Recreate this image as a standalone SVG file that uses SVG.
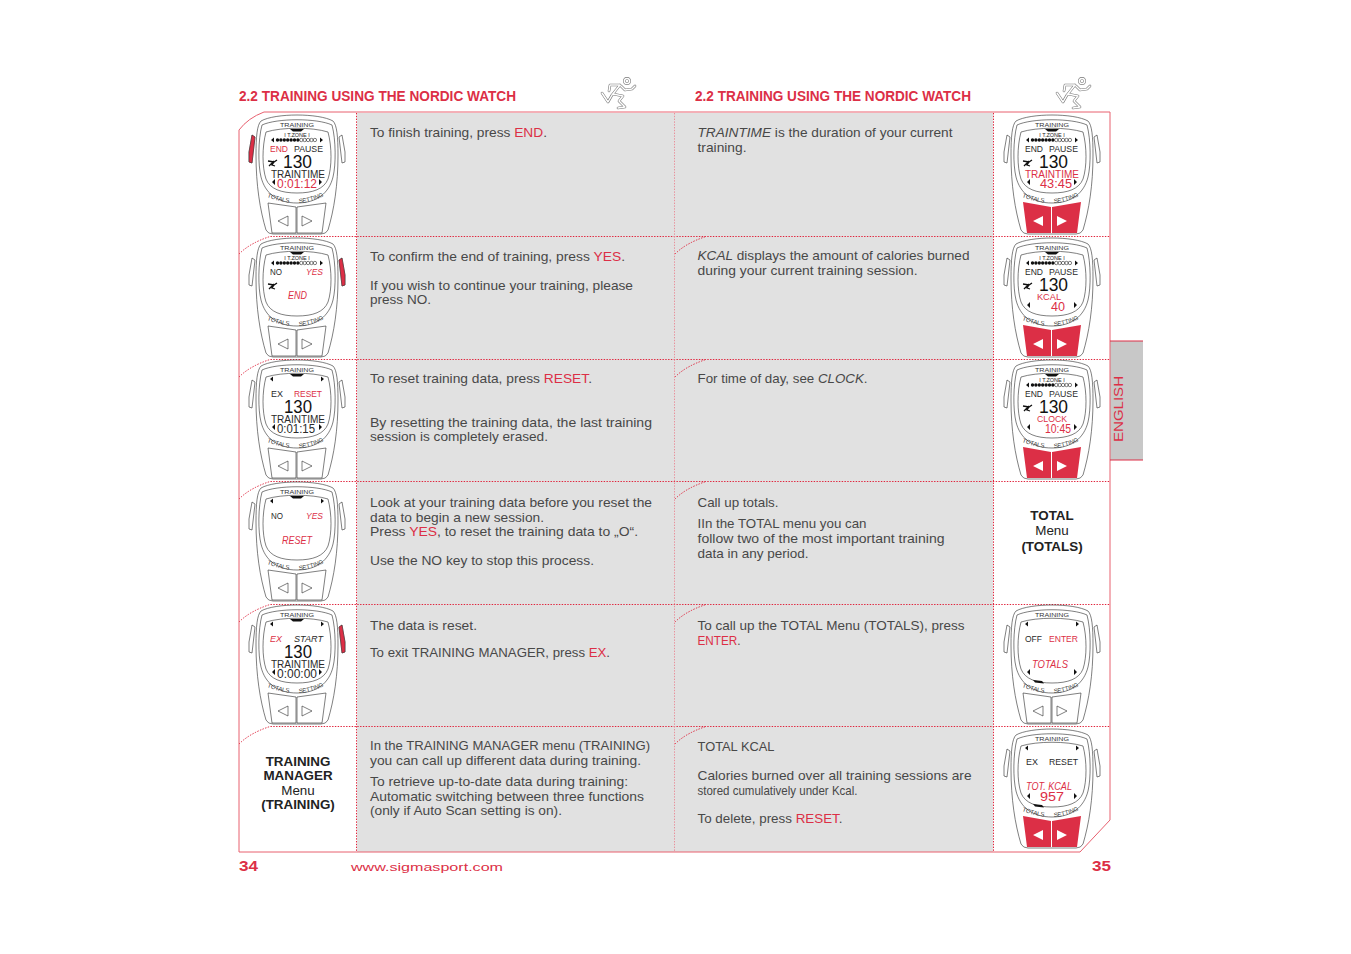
<svg xmlns="http://www.w3.org/2000/svg" width="1351" height="954" viewBox="0 0 1351 954">
<style>
text{font-family:"Liberation Sans",Arial,sans-serif}
.b{font-size:13px;fill:#484848}
.r{fill:#dc2f46}
.i{font-style:italic}
.h{font-size:14px;font-weight:bold;fill:#dc2f46}
.lab{font-size:13.400px;fill:#222;text-anchor:middle}
.bd{font-weight:bold}
.ln{fill:none;stroke:#2a2a2a;stroke-width:.6}
.dot{fill:none;stroke:#e0243c;stroke-width:1;stroke-dasharray:1.4 1.4}
.fr{fill:none;stroke:#e8606f;stroke-width:1}
.lc{fill:#2a2a2a;font-size:8.500px}
.lr{fill:#dc2f46;font-size:8.500px}
.big{font-size:19px;fill:#111}
.m{font-size:11px}
.t{font-size:12px}
.s{font-size:6px;fill:#333}
.ar{fill:#111}
.zn{font-size:5.500px;fill:#222;text-anchor:middle}
</style>
<defs>
<path id="tl" d="M-30 82 Q-17 87 -4 88"/>
<path id="tr" d="M2 88 Q17 87 33 78"/>
<g id="chassis">
<path class="ln" d="M-36 6 C-22 -2 22 -2 36 6 C40 10 41 22 41 40 C41 70 37 95 31 115 Q29 119 24 119 L-24 119 Q-29 119 -31 115 C-37 95 -41 70 -41 40 C-41 22 -40 10 -36 6Z"/>
<path class="ln" d="M-35 10 C-20 3 20 3 35 10 C39 25 39 50 36 62 C32 78 20 88 0 88 C-20 88 -32 78 -36 62 C-39 50 -39 25 -35 10Z"/>
<path class="ln" d="M-31 17 C-15 12 15 12 31 17 C35 32 35 52 31 64 C27 74 16 78 0 78 C-16 78 -27 74 -31 64 C-35 52 -35 32 -31 17Z"/>
<path class="ln" d="M-45 20 L-42 22 L-45 48 L-48 47 L-48 37Z M45 20 L42 22 L45 48 L48 47 L48 37Z"/>
</g>
<g id="btn">
<path class="ln" d="M-29 88 L-1 92 L-1 118 L-25 118Z M29 88 L0 92 L0 118 L25 118Z"/>
<path class="ln" d="M-19 106 L-9 101 L-9 111Z M5 101 L5 111 L15 106Z"/>
</g>
<g id="btnr">
<path fill="#dc2f46" d="M-29 87 L-1 92 L-1 118 L-25 118Z M29 87 L0 92 L0 118 L25 118Z"/>
<path fill="#fff" d="M-19 106 L-9 101 L-9 111Z M5 101 L5 111 L15 106Z"/>
</g>
<path id="notch" class="ar" d="M-7 14 H7 L4 16.500 H-4Z"/>
<g id="bar">
<path class="ar" d="M-26 25 L-23 22.500 V27.500Z M26 25 L23 22.500 V27.500Z"/>
<g fill="#111"><circle cx="-19.500" cy="25" r="1.700"/><circle cx="-16.100" cy="25" r="1.700"/><circle cx="-12.700" cy="25" r="1.700"/><circle cx="-9.300" cy="25" r="1.700"/><circle cx="-5.900" cy="25" r="1.700"/><circle cx="-2.500" cy="25" r="1.700"/><circle cx=".9" cy="25" r="1.700"/></g>
<g class="ln"><circle cx="4.300" cy="25" r="1.700"/><circle cx="7.700" cy="25" r="1.700"/><circle cx="11.100" cy="25" r="1.700"/><circle cx="14.500" cy="25" r="1.700"/><circle cx="17.900" cy="25" r="1.700"/></g>
</g>
<path id="arTop" class="ar" d="M-27 19 L-24 16.500 V21.500Z M27 19 L24 16.500 V21.500Z"/>
<path id="arLow" class="ar" d="M-25 67 L-22 64 V70Z M25 67 L22 64 V70Z"/>
<path id="rn" fill="none" stroke="#111" stroke-width="1.300" d="M-28 51 L-23 46 M-29 46 L-23 47 L-20 45 M-23 47 L-25 50 L-22 51"/>
<g id="man" fill="none" stroke-linejoin="round" stroke-linecap="round">
<g stroke="#777" stroke-width="2.600"><circle cx="26" cy="3" r="2.600"/><path d="M19 7 L11 17 M19 7 L9 7 L8 13 M20 8 L24 12 L31 11 L34 8 M11 17 L7 24 L1 15 M12 16 L22 18 L18 23 L24 29 L17 30"/></g>
<g stroke="#fff" stroke-width="1.500"><circle cx="26" cy="3" r="2.600"/><path d="M19 7 L11 17 M19 7 L9 7 L8 13 M20 8 L24 12 L31 11 L34 8 M11 17 L7 24 L1 15 M12 16 L22 18 L18 23 L24 29 L17 30"/></g>
</g>
</defs>
<rect width="1351" height="954" fill="#fff"/>
<rect x="357" y="113" width="636" height="739" fill="#e1e1e1"/>
<path d="M1110 341 H1143 V460 H1110Z" fill="#c8c8c8"/>
<g id="connectors">
<path class="fr" d="M239 130 Q248 118 264 112 H1110 V820 L1080 852 H239Z"/>
<path d="M1110 341 H1143 M1110 460 H1143" stroke="#dc2f46" stroke-width="1" fill="none"/>
<path class="dot" d="M239 254 Q250 243 270 236.500 H1110 M239 377 Q250 366 270 359.500 H1110 M239 499 Q250 488 270 481.500 H1110 M239 622 Q250 611 270 604.500 H1110 M239 744 Q250 733 270 726.500 H1110"/>
<path class="dot" d="M675 254 Q686 243 706 236.500 M675 377 Q686 366 706 359.500 M675 499 Q686 488 706 481.500 M675 622 Q686 611 706 604.500 M675 744 Q686 733 706 726.500"/>
<path class="dot" d="M356.500 113 V852 M993.500 113 V852"/>
<path d="M674.500 113 V852" fill="none" stroke="#e8909b" stroke-width="1" stroke-dasharray="1.400 1.400"/>
</g>
<g id="header">
<text class="h" x="239" y="101" textLength="277" lengthAdjust="spacingAndGlyphs">2.2 TRAINING USING THE NORDIC WATCH</text>
<text class="h" x="695" y="101" textLength="276" lengthAdjust="spacingAndGlyphs">2.2 TRAINING USING THE NORDIC WATCH</text>
<use href="#man" x="601" y="78"/>
<use href="#man" x="1056" y="78"/>
</g>
<g id="left-text">
<text class="b" x="370" y="137" textLength="177" lengthAdjust="spacingAndGlyphs">To finish training, press <tspan class="r">END</tspan>.</text>
<text class="b" x="370" y="261" textLength="255" lengthAdjust="spacingAndGlyphs">To confirm the end of training, press <tspan class="r">YES</tspan>.</text>
<text class="b" x="370" y="290" textLength="263" lengthAdjust="spacingAndGlyphs">If you wish to continue your training, please</text>
<text class="b" x="370" y="304" textLength="61" lengthAdjust="spacingAndGlyphs">press NO.</text>
<text class="b" x="370" y="383" textLength="222" lengthAdjust="spacingAndGlyphs">To reset training data, press <tspan class="r">RESET</tspan>.</text>
<text class="b" x="370" y="427" textLength="282" lengthAdjust="spacingAndGlyphs">By resetting the training data, the last training</text>
<text class="b" x="370" y="441" textLength="178" lengthAdjust="spacingAndGlyphs">session is completely erased.</text>
<text class="b" x="370" y="507" textLength="282" lengthAdjust="spacingAndGlyphs">Look at your training data before you reset the</text>
<text class="b" x="370" y="522" textLength="174" lengthAdjust="spacingAndGlyphs">data to begin a new session.</text>
<text class="b" x="370" y="536" textLength="268" lengthAdjust="spacingAndGlyphs">Press <tspan class="r">YES</tspan>, to reset the training data to „O“.</text>
<text class="b" x="370" y="565" textLength="224" lengthAdjust="spacingAndGlyphs">Use the NO key to stop this process.</text>
<text class="b" x="370" y="630" textLength="107" lengthAdjust="spacingAndGlyphs">The data is reset.</text>
<text class="b" x="370" y="657" textLength="240" lengthAdjust="spacingAndGlyphs">To exit TRAINING MANAGER, press <tspan class="r">EX</tspan>.</text>
<text class="b" x="370" y="750" textLength="280" lengthAdjust="spacingAndGlyphs">In the TRAINING MANAGER menu (TRAINING)</text>
<text class="b" x="370" y="765" textLength="271" lengthAdjust="spacingAndGlyphs">you can call up different data during training.</text>
<text class="b" x="370" y="786" textLength="258" lengthAdjust="spacingAndGlyphs">To retrieve up-to-date data during training:</text>
<text class="b" x="370" y="801" textLength="274" lengthAdjust="spacingAndGlyphs">Automatic switching between three functions</text>
<text class="b" x="370" y="815" textLength="192" lengthAdjust="spacingAndGlyphs">(only if Auto Scan setting is on).</text>
</g>
<g id="right-text">
<text class="b" x="697.500" y="137" textLength="255" lengthAdjust="spacingAndGlyphs"><tspan class="i">TRAINTIME</tspan> is the duration of your current</text>
<text class="b" x="697.500" y="152" textLength="49" lengthAdjust="spacingAndGlyphs">training.</text>
<text class="b" x="697.500" y="260" textLength="272" lengthAdjust="spacingAndGlyphs"><tspan class="i">KCAL</tspan> displays the amount of calories burned</text>
<text class="b" x="697.500" y="275" textLength="220" lengthAdjust="spacingAndGlyphs">during your current training session.</text>
<text class="b" x="697.500" y="383" textLength="170" lengthAdjust="spacingAndGlyphs">For time of day, see <tspan class="i">CLOCK</tspan>.</text>
<text class="b" x="697.500" y="507" textLength="81" lengthAdjust="spacingAndGlyphs">Call up totals.</text>
<text class="b" x="697.500" y="528" textLength="169" lengthAdjust="spacingAndGlyphs">IIn the TOTAL menu you can</text>
<text class="b" x="697.500" y="543" textLength="247" lengthAdjust="spacingAndGlyphs">follow two of the most important training</text>
<text class="b" x="697.500" y="558" textLength="111" lengthAdjust="spacingAndGlyphs">data in any period.</text>
<text class="b" x="697.500" y="630" textLength="267" lengthAdjust="spacingAndGlyphs">To call up the TOTAL Menu (TOTALS), press</text>
<text class="b" x="697.500" y="645" textLength="43" lengthAdjust="spacingAndGlyphs"><tspan class="r">ENTER</tspan>.</text>
<text class="b" x="697.500" y="751" textLength="77" lengthAdjust="spacingAndGlyphs">TOTAL KCAL</text>
<text class="b" x="697.500" y="780" textLength="274" lengthAdjust="spacingAndGlyphs">Calories burned over all training sessions are</text>
<text class="b" x="697.500" y="795" textLength="160" lengthAdjust="spacingAndGlyphs">stored cumulatively under Kcal.</text>
<text class="b" x="697.500" y="823" textLength="145" lengthAdjust="spacingAndGlyphs">To delete, press <tspan class="r">RESET</tspan>.</text>
</g>
<g id="label-training">
<text class="lab bd" x="298" y="766">TRAINING</text>
<text class="lab bd" x="298" y="780">MANAGER</text>
<text class="lab" x="298" y="795">Menu</text>
<text class="lab bd" x="298" y="809">(TRAINING)</text>
</g>
<g id="label-total">
<text class="lab bd" x="1052" y="520">TOTAL</text>
<text class="lab" x="1052" y="535">Menu</text>
<text class="lab bd" x="1052" y="551">(TOTALS)</text>
</g>

<g id="w1" transform="translate(297 115)"><use href="#chassis"/><use href="#btn"/><path fill="#dc2f46" stroke="#222" stroke-width=".4" d="M-45 20 L-42 22 L-45 48 L-48 47 L-48 37Z"/><use href="#notch"/><use href="#bar"/><use href="#rn"/><use href="#arLow"/>
<text class="s" x="-17" y="12" textLength="34" lengthAdjust="spacingAndGlyphs">TRAINING</text><text class="zn" x="0" y="21.500">I T.ZONE I</text>
<text class="lr" x="-27" y="37" textLength="18" lengthAdjust="spacingAndGlyphs">END</text><text class="lc" x="-3" y="37" textLength="29" lengthAdjust="spacingAndGlyphs">PAUSE</text>
<text class="big" x="-14" y="52.500" textLength="29" lengthAdjust="spacingAndGlyphs">130</text><text class="lc m" x="-26" y="62.500" textLength="54" lengthAdjust="spacingAndGlyphs">TRAINTIME</text><text class="lr t" x="-20" y="73" textLength="40" lengthAdjust="spacingAndGlyphs">0:01:12</text>
<text class="s"><textPath href="#tl">TOTALS</textPath></text><text class="s"><textPath href="#tr">SETTING</textPath></text></g>

<g id="w2" transform="translate(297 238)"><use href="#chassis"/><use href="#btn"/><path fill="#dc2f46" stroke="#222" stroke-width=".4" d="M45 20 L42 22 L45 48 L48 47 L48 37Z"/><use href="#notch"/><use href="#bar"/><use href="#rn"/>
<text class="s" x="-17" y="12" textLength="34" lengthAdjust="spacingAndGlyphs">TRAINING</text><text class="zn" x="0" y="21.500">I T.ZONE I</text>
<text class="lc" x="-27" y="37" textLength="12" lengthAdjust="spacingAndGlyphs">NO</text><text class="lr i" x="9" y="37" textLength="17" lengthAdjust="spacingAndGlyphs">YES</text>
<text class="lr i m" x="-9" y="61" textLength="19" lengthAdjust="spacingAndGlyphs">END</text>
<text class="s"><textPath href="#tl">TOTALS</textPath></text><text class="s"><textPath href="#tr">SETTING</textPath></text></g>

<g id="w3" transform="translate(297 360)"><use href="#chassis"/><use href="#btn"/><use href="#notch"/><use href="#arTop"/><use href="#arLow"/>
<text class="s" x="-17" y="12" textLength="34" lengthAdjust="spacingAndGlyphs">TRAINING</text>
<text class="lc" x="-26" y="37" textLength="12" lengthAdjust="spacingAndGlyphs">EX</text><text class="lr" x="-3" y="37" textLength="28" lengthAdjust="spacingAndGlyphs">RESET</text>
<text class="big" x="-13" y="52.500" textLength="28" lengthAdjust="spacingAndGlyphs">130</text><text class="lc m" x="-26" y="62.500" textLength="54" lengthAdjust="spacingAndGlyphs">TRAINTIME</text><text class="lc t" x="-20" y="73" textLength="38" lengthAdjust="spacingAndGlyphs">0:01:15</text>
<text class="s"><textPath href="#tl">TOTALS</textPath></text><text class="s"><textPath href="#tr">SETTING</textPath></text></g>

<g id="w4" transform="translate(297 482)"><use href="#chassis"/><use href="#btn"/><use href="#notch"/><use href="#arTop"/>
<text class="s" x="-17" y="12" textLength="34" lengthAdjust="spacingAndGlyphs">TRAINING</text>
<text class="lc" x="-26" y="37" textLength="12" lengthAdjust="spacingAndGlyphs">NO</text><text class="lr i" x="9" y="37" textLength="17" lengthAdjust="spacingAndGlyphs">YES</text>
<text class="lr i m" x="-15" y="62" textLength="30" lengthAdjust="spacingAndGlyphs">RESET</text>
<text class="s"><textPath href="#tl">TOTALS</textPath></text><text class="s"><textPath href="#tr">SETTING</textPath></text></g>

<g id="w5" transform="translate(297 605)"><use href="#chassis"/><use href="#btn"/><path fill="#dc2f46" stroke="#222" stroke-width=".4" d="M45 20 L42 22 L45 48 L48 47 L48 37Z"/><use href="#notch"/><use href="#arTop"/><use href="#arLow"/>
<text class="s" x="-17" y="12" textLength="34" lengthAdjust="spacingAndGlyphs">TRAINING</text>
<text class="lr i" x="-27" y="37" textLength="12" lengthAdjust="spacingAndGlyphs">EX</text><text class="lc i" x="-3" y="37" textLength="29" lengthAdjust="spacingAndGlyphs">START</text>
<text class="big" x="-13" y="52.500" textLength="28" lengthAdjust="spacingAndGlyphs">130</text><text class="lc m" x="-26" y="62.500" textLength="54" lengthAdjust="spacingAndGlyphs">TRAINTIME</text><text class="lc t" x="-20" y="73" textLength="40" lengthAdjust="spacingAndGlyphs">0:00:00</text>
<text class="s"><textPath href="#tl">TOTALS</textPath></text><text class="s"><textPath href="#tr">SETTING</textPath></text></g>

<g id="w6" transform="translate(1052 115)"><use href="#chassis"/><use href="#btnr"/><use href="#notch"/><use href="#bar"/><use href="#rn"/><use href="#arLow"/>
<text class="s" x="-17" y="12" textLength="34" lengthAdjust="spacingAndGlyphs">TRAINING</text><text class="zn" x="0" y="21.500">I T.ZONE I</text>
<text class="lc" x="-27" y="37" textLength="18" lengthAdjust="spacingAndGlyphs">END</text><text class="lc" x="-3" y="37" textLength="29" lengthAdjust="spacingAndGlyphs">PAUSE</text>
<text class="big" x="-13" y="52.500" textLength="29" lengthAdjust="spacingAndGlyphs">130</text><text class="lr m" x="-27" y="62.500" textLength="54" lengthAdjust="spacingAndGlyphs">TRAINTIME</text><text class="lr t" x="-12" y="73" textLength="32" lengthAdjust="spacingAndGlyphs">43:45</text>
<text class="s"><textPath href="#tl">TOTALS</textPath></text><text class="s"><textPath href="#tr">SETTING</textPath></text></g>

<g id="w7" transform="translate(1052 238)"><use href="#chassis"/><use href="#btnr"/><use href="#notch"/><use href="#bar"/><use href="#rn"/><use href="#arLow"/>
<text class="s" x="-17" y="12" textLength="34" lengthAdjust="spacingAndGlyphs">TRAINING</text><text class="zn" x="0" y="21.500">I T.ZONE I</text>
<text class="lc" x="-27" y="37" textLength="18" lengthAdjust="spacingAndGlyphs">END</text><text class="lc" x="-3" y="37" textLength="29" lengthAdjust="spacingAndGlyphs">PAUSE</text>
<text class="big" x="-13" y="52.500" textLength="29" lengthAdjust="spacingAndGlyphs">130</text><text class="lr" x="-15" y="61.500" textLength="24" lengthAdjust="spacingAndGlyphs">KCAL</text><text class="lr t" x="-1" y="73" textLength="14" lengthAdjust="spacingAndGlyphs">40</text>
<text class="s"><textPath href="#tl">TOTALS</textPath></text><text class="s"><textPath href="#tr">SETTING</textPath></text></g>

<g id="w8" transform="translate(1052 360)"><use href="#chassis"/><use href="#btnr"/><use href="#notch"/><use href="#bar"/><use href="#rn"/><use href="#arLow"/>
<text class="s" x="-17" y="12" textLength="34" lengthAdjust="spacingAndGlyphs">TRAINING</text><text class="zn" x="0" y="21.500">I T.ZONE I</text>
<text class="lc" x="-27" y="37" textLength="18" lengthAdjust="spacingAndGlyphs">END</text><text class="lc" x="-3" y="37" textLength="29" lengthAdjust="spacingAndGlyphs">PAUSE</text>
<text class="big" x="-13" y="52.500" textLength="29" lengthAdjust="spacingAndGlyphs">130</text><text class="lr" x="-15" y="62" textLength="30" lengthAdjust="spacingAndGlyphs">CLOCK</text><text class="lr t" x="-7" y="73" textLength="26" lengthAdjust="spacingAndGlyphs">10:45</text>
<text class="s"><textPath href="#tl">TOTALS</textPath></text><text class="s"><textPath href="#tr">SETTING</textPath></text></g>

<g id="w9" transform="translate(1052 605)"><use href="#chassis"/><use href="#btn"/><path class="ar" d="M-19 75 L-10 76 L-8 78.500 L-17 77.500Z"/><use href="#arTop"/><use href="#arLow"/>
<text class="s" x="-17" y="12" textLength="34" lengthAdjust="spacingAndGlyphs">TRAINING</text>
<text class="lc" x="-27" y="37" textLength="17" lengthAdjust="spacingAndGlyphs">OFF</text><text class="lr" x="-3" y="37" textLength="29" lengthAdjust="spacingAndGlyphs">ENTER</text>
<text class="lr i m" x="-20" y="63" textLength="36" lengthAdjust="spacingAndGlyphs">TOTALS</text>
<text class="s"><textPath href="#tl">TOTALS</textPath></text><text class="s"><textPath href="#tr">SETTING</textPath></text></g>

<g id="w10" transform="translate(1052 729)"><use href="#chassis"/><use href="#btnr"/><path class="ar" d="M-19 75 L-10 76 L-8 78.500 L-17 77.500Z"/><use href="#arTop"/><use href="#arLow"/>
<text class="s" x="-17" y="12" textLength="34" lengthAdjust="spacingAndGlyphs">TRAINING</text>
<text class="lc" x="-26" y="36" textLength="12" lengthAdjust="spacingAndGlyphs">EX</text><text class="lc" x="-3" y="36" textLength="29" lengthAdjust="spacingAndGlyphs">RESET</text>
<text class="lr i m" x="-26" y="61" textLength="46" lengthAdjust="spacingAndGlyphs">TOT. KCAL</text><text class="lr t" x="-12" y="72" textLength="24" lengthAdjust="spacingAndGlyphs">957</text>
<text class="s"><textPath href="#tl">TOTALS</textPath></text><text class="s"><textPath href="#tr">SETTING</textPath></text></g>

<g id="tab"><text x="0" y="0" transform="translate(1123 442) rotate(-90)" font-size="12" fill="#dc2f46" textLength="66" lengthAdjust="spacingAndGlyphs">ENGLISH</text></g>
<g id="footer">
<text class="h" x="239" y="871" textLength="19" lengthAdjust="spacingAndGlyphs">34</text>
<text class="h" x="1092" y="871" textLength="19" lengthAdjust="spacingAndGlyphs">35</text>
<text x="351" y="871" font-size="10" fill="#dc2f46" textLength="152" lengthAdjust="spacingAndGlyphs">www.sigmasport.com</text>
</g>
</svg>
